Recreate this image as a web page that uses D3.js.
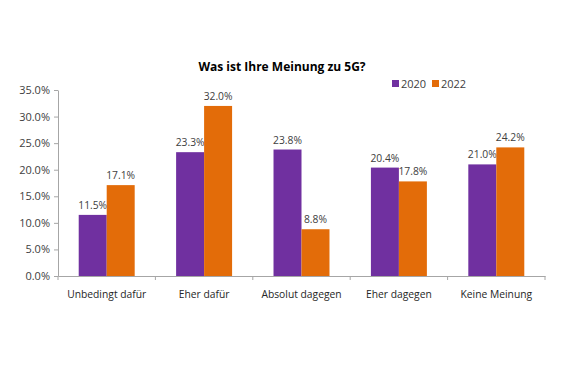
<!DOCTYPE html>
<html><head><meta charset="utf-8">
<script src="https://cdn.jsdelivr.net/npm/d3@7"></script>
<style>body{margin:0;background:#fff}svg{display:block}text{font-family:"Open Sans","Liberation Sans",sans-serif}</style>
</head><body>
<svg id="c" width="580" height="367"></svg>
<script>
const categories = ["Unbedingt dafür","Eher dafür","Absolut dagegen","Eher dagegen","Keine Meinung"];
const series = ["2020","2022"];
const values2020 = [11.5, 23.3, 23.8, 20.4, 21.0];
const values2022 = [17.1, 32.0, 8.8, 17.8, 24.2];
const yTicks = [0,5,10,15,20,25,30,35];
const colors = ["#7030A0","#E36C09"];
const title = "Was ist Ihre Meinung zu 5G?";

const svg = d3.select("#c");
const x = d3.scaleBand().domain(categories).range([58,545]).paddingInner(0).paddingOuter(0);
const y = d3.scaleLinear().domain([0,35]).range([276,90]);
const xs = d3.scaleBand().domain(series).range([0, x.bandwidth()]).paddingOuter(0.74).paddingInner(0);

// Axes
const yAxis = svg.append("g").attr("transform","translate(58,0)")
  .call(d3.axisLeft(y).tickValues(yTicks).tickFormat(d=>d.toFixed(1)+"%").tickSize(4).tickSizeOuter(0));
yAxis.select(".domain").attr("stroke","#a6a6a6");
yAxis.selectAll(".tick line").attr("stroke","#a6a6a6");
yAxis.selectAll(".tick text").attr("fill","#404040").attr("font-size","11px").attr("x",-8);

const data = categories.map((c,i)=>({c, v:[values2020[i], values2022[i]]}));
const g = svg.append("g");
data.forEach(d=>{
  series.forEach((s,j)=>{
    g.append("rect").attr("x", x(d.c)+xs(s)).attr("y", y(d.v[j]))
      .attr("width", xs.bandwidth()).attr("height", y(0)-y(d.v[j])).attr("fill", colors[j]);
    g.append("text").attr("x", x(d.c)+xs(s)+xs.bandwidth()/2).attr("y", y(d.v[j])-6)
      .attr("text-anchor","middle").attr("font-size","10.3px").attr("fill","#404040")
      .text(d.v[j].toFixed(1)+"%");
  });
});

const xAxis = svg.append("g").attr("transform","translate(0,276)")
  .call(d3.axisBottom(x).tickSize(0).tickSizeOuter(0));
xAxis.select(".domain").attr("stroke","#a6a6a6");
xAxis.selectAll(".tick text").attr("fill","#262626").attr("font-size","10.3px").attr("dy","1.8em");
// category boundary ticks
const bounds = categories.map(c=>x(c)).concat([x.range()[1]]);
svg.append("g").selectAll("line").data(bounds).join("line")
  .attr("x1",d=>d).attr("x2",d=>d).attr("y1",276).attr("y2",280).attr("stroke","#a6a6a6");

// Title
svg.append("text").attr("x",282).attr("y",71).attr("text-anchor","middle")
  .attr("font-size","12px").attr("font-weight","bold").attr("fill","#000").text(title);

// Legend
const leg = svg.append("g");
const lx = [392, 432];
series.forEach((s,j)=>{
  leg.append("rect").attr("x",lx[j]).attr("y",80).attr("width",7).attr("height",7).attr("fill",colors[j]);
  leg.append("text").attr("x",lx[j]+9).attr("y",87.5).attr("font-size","11px").attr("fill","#404040").text(s);
});
</script>
</body></html>
